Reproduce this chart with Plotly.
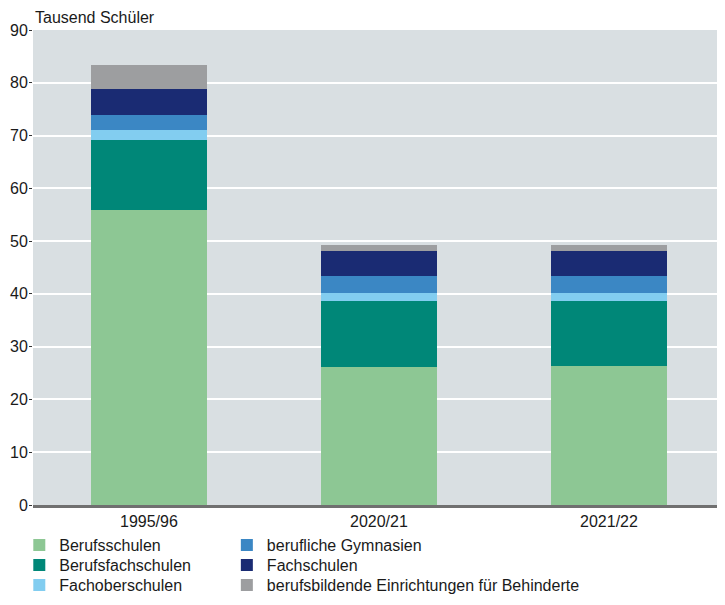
import plotly.graph_objects as go

categories = ["1995/96", "2020/21", "2021/22"]
berufsschulen = [55.9, 26.1, 26.3]
berufsfachschulen = [13.25, 12.5, 12.35]
fachoberschulen = [1.9, 1.55, 1.55]
berufliche_gymnasien = [2.85, 3.2, 3.2]
fachschulen = [4.9, 4.7, 4.7]
behinderte = [4.6, 1.15, 1.15]

y_ticks = [0, 10, 20, 30, 40, 50, 60, 70, 80, 90]

series = [
    ("Berufsschulen", berufsschulen, "#8DC794", "legend"),
    ("Berufsfachschulen", berufsfachschulen, "#008778", "legend2"),
    ("Fachoberschulen", fachoberschulen, "#82CDF0", "legend3"),
    ("berufliche Gymnasien", berufliche_gymnasien, "#3B87C4", "legend4"),
    ("Fachschulen", fachschulen, "#1A2B73", "legend5"),
    ("berufsbildende Einrichtungen für Behinderte", behinderte, "#9D9EA0", "legend6"),
]

FONT = "Liberation Sans, Arial, sans-serif"
FS = 16

fig = go.Figure()
for name, vals, color, leg in series:
    fig.add_trace(go.Bar(
        x=categories, y=vals, name=name,
        marker=dict(color=color, line=dict(width=0)),
        width=0.504, legend=leg, showlegend=True,
    ))

legend_common = dict(
    orientation="v", xanchor="left", yanchor="top",
    font=dict(family=FONT, size=FS, color="#1a1a1a"),
    bgcolor="rgba(0,0,0,0)", itemclick=False, itemdoubleclick=False,
    tracegroupgap=0, traceorder="normal",
)
col_x = [-0.02, 0.283]
row_y = [-0.0484, -0.0905, -0.1326]

fig.update_layout(
    barmode="stack",
    showlegend=True,
    width=717, height=597,
    margin=dict(l=25, r=7, t=22, b=100, autoexpand=False),
    paper_bgcolor="white",
    plot_bgcolor="#D9DFE2",
    font=dict(family=FONT, size=FS, color="#1a1a1a"),
    bargap=0,
    legend=dict(x=col_x[0], y=row_y[0], **legend_common),
    legend2=dict(x=col_x[0], y=row_y[1], **legend_common),
    legend3=dict(x=col_x[0], y=row_y[2], **legend_common),
    legend4=dict(x=col_x[1], y=row_y[0], **legend_common),
    legend5=dict(x=col_x[1], y=row_y[1], **legend_common),
    legend6=dict(x=col_x[1], y=row_y[2], **legend_common),
    xaxis=dict(
        type="category", range=[-0.504, 2.474],
        showgrid=False, ticks="", showline=True,
        linecolor="#707070", linewidth=3,
        tickfont=dict(family=FONT, size=FS, color="#1a1a1a"),
        fixedrange=True, automargin=False,
    ),
    yaxis=dict(
        range=[0, 90], tickvals=y_ticks,
        showgrid=True, gridcolor="white", gridwidth=2,
        zeroline=False, showline=False,
        ticks="outside", ticklen=3, tickcolor="#333333", tickwidth=1,
        ticklabelstandoff=-2,
        tickfont=dict(family=FONT, size=FS, color="#1a1a1a"),
        fixedrange=True, automargin=False,
    ),
    annotations=[dict(
        text="Tausend Schüler", xref="paper", yref="paper",
        x=0.0, y=1.027, xanchor="left", yanchor="middle",
        showarrow=False, font=dict(family=FONT, size=FS, color="#1a1a1a"),
    )],
)

fig.write_html("out.html")
